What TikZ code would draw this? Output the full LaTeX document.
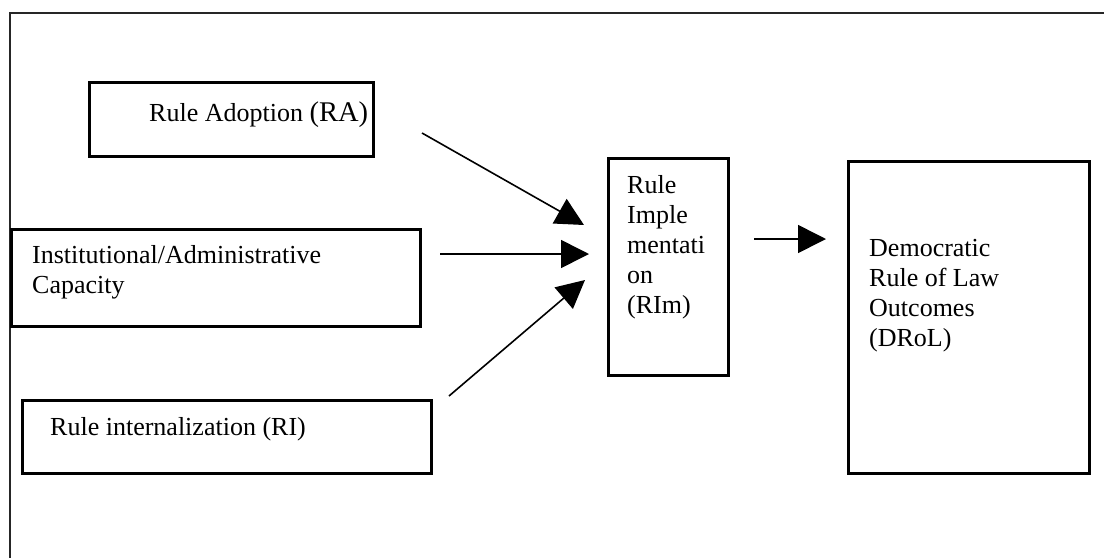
\documentclass[tikz,border=0pt]{standalone}
\usepackage{fontspec}
\setmainfont{Liberation Serif}
\usetikzlibrary{arrows.meta}
\begin{document}
\begin{tikzpicture}[x=1pt,y=-1pt,
  box/.style={draw=black,line width=3pt,rectangle,inner sep=0pt},
  lbl/.style={anchor=base west,inner sep=0pt,align=left,
    font=\fontsize{26}{30}\selectfont},
  flow/.style={line width=1.6pt,-{Triangle[length=28pt,width=28pt]}}]
\useasboundingbox (0,0) rectangle (1104,558);
% open frame: top and left edges only
\draw[line width=2.5pt,black!85] (1104,13) -- (10,13) -- (10,558);

% boxes, given by their centres and sizes
\node[box,minimum width=284pt,minimum height=74pt] (ra)   at (231,119) {};
\node[box,minimum width=409pt,minimum height=97pt] (iac)  at (215.5,277.5) {};
\node[box,minimum width=409pt,minimum height=73pt] (ri)   at (226.5,436.5) {};
\node[box,minimum width=120pt,minimum height=217pt] (rim) at (668,266.5) {};
\node[box,minimum width=241pt,minimum height=312pt] (drol) at (968.5,317) {};

% texts (multi-line labels sit on the baseline of their last line)
\node[lbl] (raT) at (149,121) {Rule Adoption {\fontsize{28.5}{30}\selectfont(RA)}};
\node[lbl] (iacT) at (32,293) {Institutional/Administrative\\Capacity};
\node[lbl] (riT) at (50,435) {Rule internalization (RI)};
\node[lbl] (rimT) at (627,313) {Rule\\Imple\\mentati\\on\\(RIm)};
\node[lbl] (drolT) at (869,346) {Democratic\\Rule of Law\\Outcomes\\(DRoL)};

% connector ends
\coordinate (a1) at (422,133);  \coordinate (b1) at (584,225);
\coordinate (a2) at (440,254);  \coordinate (b2) at (589,254);
\coordinate (a3) at (449,396);  \coordinate (b3) at (585,280);
\coordinate (a4) at (754,239);  \coordinate (b4) at (826,239);

\draw[flow] (a1) -- (b1);
\draw[flow] (a2) -- (b2);
\draw[flow] (a3) -- (b3);
\draw[flow] (a4) -- (b4);
\end{tikzpicture}
\end{document}
